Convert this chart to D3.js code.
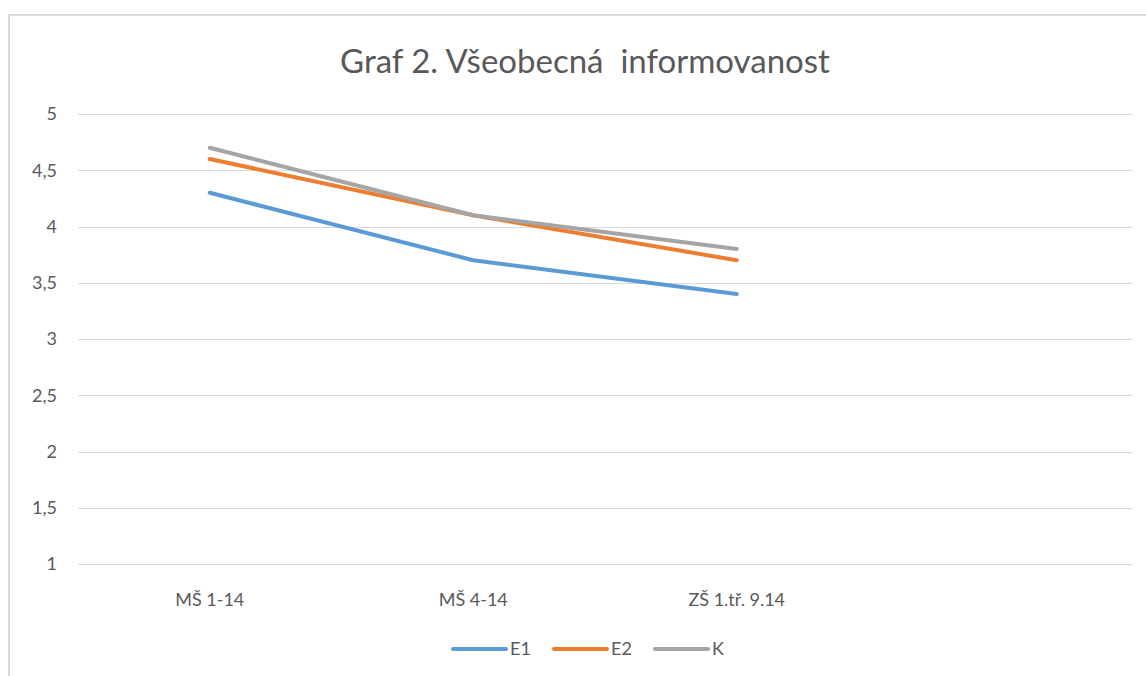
<!DOCTYPE html>
<html>
<head>
<meta charset="utf-8">
<script src="https://cdn.jsdelivr.net/npm/d3@7"></script>
<style>
  body { margin: 0; background: #fff; }
  svg { font-family: Lato, "Open Sans", sans-serif; }
  .tick-label { fill: #595959; font-size: 18px; }
  .chart-title { fill: #595959; font-size: 33px; white-space: pre; }
</style>
</head>
<body>
<svg id="chart" width="1146" height="676"></svg>
<script>
// categories (4th slot is empty in the original chart)
const categories = ["MŠ 1-14", "MŠ 4-14", "ZŠ 1.tř. 9.14", ""];
const seriesNames = ["E1", "E2", "K"];
const e1Values = [4.3, 3.7, 3.4];
const e2Values = [4.6, 4.1, 3.7];
const kValues = [4.7, 4.1, 3.8];
const yTicks = [1, 1.5, 2, 2.5, 3, 3.5, 4, 4.5, 5];
const colors = ["#5B9BD5", "#ED7D31", "#A5A5A5"];

const svg = d3.select("#chart");
const plot = { left: 78, right: 1132, top: 114, bottom: 564 };

// chart frame (top and left edges visible in the crop)
svg.append("path")
    .attr("d", "M9,676 V15 H1146")
    .attr("fill", "none")
    .attr("stroke", "#d9d9d9")
    .attr("stroke-width", 2);

const x = d3.scaleBand().domain(categories).range([plot.left, plot.right]);
const y = d3.scaleLinear().domain([1, 5]).range([plot.bottom, plot.top]);

// grid lines
svg.append("g")
    .selectAll("line")
    .data(yTicks)
    .enter().append("line")
        .attr("x1", plot.left)
        .attr("x2", plot.right)
        .attr("y1", d => Math.round(y(d)) + 0.5)
        .attr("y2", d => Math.round(y(d)) + 0.5)
        .attr("stroke", "#d9d9d9")
        .attr("stroke-width", 1);

// y labels
svg.append("g")
    .selectAll("text")
    .data(yTicks)
    .enter().append("text")
        .attr("class", "tick-label")
        .attr("x", 57)
        .attr("y", d => y(d))
        .attr("dy", "0.35em")
        .style("text-anchor", "end")
        .text(d => String(d).replace(".", ","));

// x labels
svg.append("g")
    .selectAll("text")
    .data(categories)
    .enter().append("text")
        .attr("class", "tick-label")
        .attr("x", d => x(d) + x.bandwidth() / 2)
        .attr("y", 606)
        .style("text-anchor", "middle")
        .text(d => d);

// title
svg.append("text")
    .attr("class", "chart-title")
    .attr("x", 585)
    .attr("y", 73)
    .style("text-anchor", "middle")
    .text("Graf 2. Všeobecná  informovanost");

// lines
const allSeries = [e1Values, e2Values, kValues];
const line = d3.line()
    .x((d, i) => x(categories[i]) + x.bandwidth() / 2)
    .y(d => y(d));

allSeries.forEach((vals, i) => {
    svg.append("path")
        .datum(vals)
        .attr("fill", "none")
        .attr("stroke", colors[i])
        .attr("stroke-width", 4)
        .attr("stroke-linejoin", "round")
        .attr("stroke-linecap", "round")
        .attr("d", line);
});

// legend
const legendX = [453, 554, 655];
const legend = svg.append("g");
seriesNames.forEach((name, i) => {
    legend.append("line")
        .attr("x1", legendX[i])
        .attr("x2", legendX[i] + 53)
        .attr("y1", 649)
        .attr("y2", 649)
        .attr("stroke", colors[i])
        .attr("stroke-width", 4)
        .attr("stroke-linecap", "round");
    legend.append("text")
        .attr("class", "tick-label")
        .attr("x", legendX[i] + 57)
        .attr("y", 649)
        .attr("dy", "0.35em")
        .text(name);
});
</script>
</body>
</html>
